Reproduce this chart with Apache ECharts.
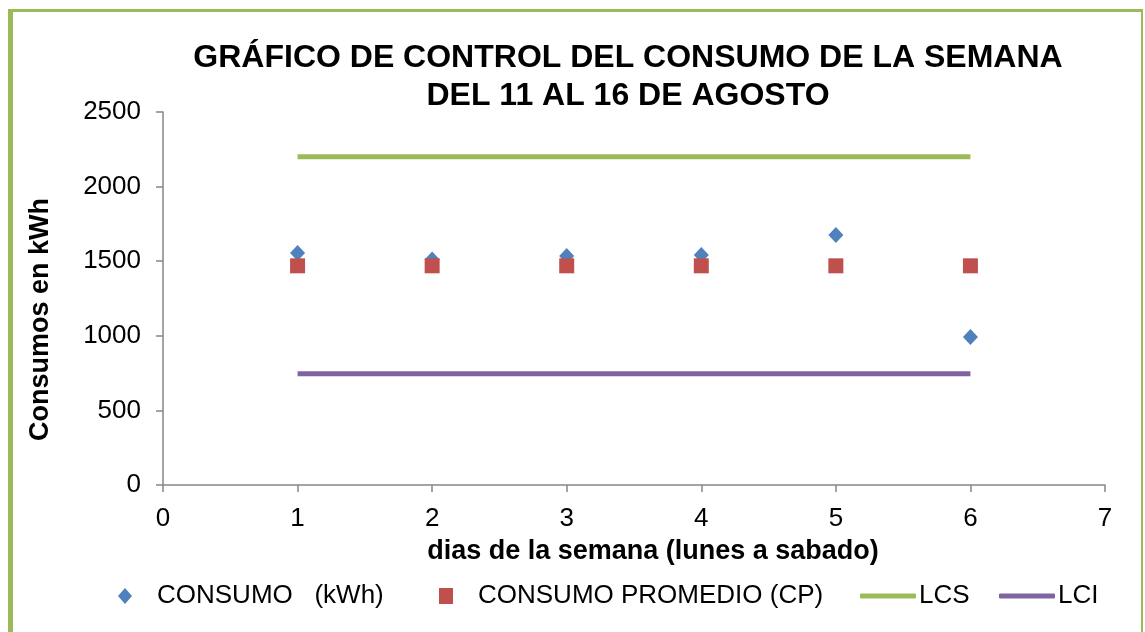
<!DOCTYPE html>
<html>
<head>
<meta charset="utf-8">
<script src="https://cdn.jsdelivr.net/npm/echarts@6/dist/echarts.min.js"></script>
<style>
    html,body{margin:0;padding:0;background:#fff;}
    .frame{
        position:absolute;left:8px;top:9px;width:1135px;height:640px;
        border-left:5px solid #9bbb59;border-top:3px solid #9bbb59;border-right:2px solid #9bbb59;
        box-sizing:border-box;
    }
    #chart{position:absolute;left:0;top:0;width:1145px;height:632px;}
</style>
</head>
<body>
<div class="frame"></div>
<div id="chart"></div>
<script>
    // dias de la semana
    var dias = [1, 2, 3, 4, 5, 6];
    // consumo diario (kWh)
    var consumo = [1555, 1511, 1535, 1542, 1676, 992];
    // consumo promedio
    var promedio = [1469, 1469, 1469, 1469, 1469, 1469];
    // limites de control
    var lcs = [2200, 2200, 2200, 2200, 2200, 2200];
    var lci = [745, 745, 745, 745, 745, 745];

    function pares(xs, ys) {
        return xs.map(function (x, i) { return [x, ys[i]]; });
    }

    var axisColor = '#868686';
    var legendText = {fontSize: 26, color: '#000'};
    var legendTop = 583;

    function leyenda(nombre, icono, left, w, h, pad) {
        return {
            data: [{name: nombre, icon: icono}],
            left: left, top: legendTop,
            itemWidth: w, itemHeight: h,
            padding: 0,
            textStyle: Object.assign({padding: [0, 0, 0, pad]}, legendText)
        };
    }

    var chart = echarts.init(document.getElementById('chart'));
    chart.setOption({
        animation: false,
        textStyle: {fontFamily: 'Liberation Sans, Arial, sans-serif'},
        title: {
            text: 'GRÁFICO DE CONTROL DEL CONSUMO DE LA SEMANA\nDEL 11 AL 16 DE AGOSTO',
            left: 623,
            textAlign: 'center',
            top: 34,
            textStyle: {fontSize: 32, fontWeight: 'bold', color: '#000', lineHeight: 38}
        },
        legend: [
            leyenda('CONSUMO   (kWh)', 'diamond', 118, 14, 16, 20),
            leyenda('CONSUMO PROMEDIO (CP)', 'rect', 439, 14, 16, 20),
            leyenda('LCS', 'roundRect', 860, 56, 5, -2),
            leyenda('LCI', 'roundRect', 999, 56, 5, -2)
        ],
        grid: {left: 163, right: 40, top: 112, bottom: 147},
        xAxis: {
            type: 'value',
            min: 0, max: 7, interval: 1,
            name: 'dias de la semana (lunes a sabado)',
            nameLocation: 'middle',
            nameGap: 53,
            nameTextStyle: {fontSize: 27, fontWeight: 'bold', color: '#000', padding: [0, 0, 0, 38]},
            axisLine: {lineStyle: {color: axisColor, width: 1.5}},
            axisTick: {show: true, length: 7, lineStyle: {color: axisColor, width: 1.5}},
            axisLabel: {fontSize: 26, color: '#000', margin: 21},
            splitLine: {show: false}
        },
        yAxis: {
            type: 'value',
            min: 0, max: 2500, interval: 500,
            name: 'Consumos en kWh',
            nameLocation: 'middle',
            nameGap: 109,
            nameTextStyle: {fontSize: 27, fontWeight: 'bold', color: '#000', padding: [0, 42, 0, 0]},
            axisLine: {show: true, lineStyle: {color: axisColor, width: 1.5}},
            axisTick: {show: true, length: 7, lineStyle: {color: axisColor, width: 1.5}},
            axisLabel: {fontSize: 26, color: '#000', margin: 22, formatter: function (v) { return String(v); }},
            splitLine: {show: false}
        },
        series: [
            {
                name: 'LCS', type: 'line', data: pares(dias, lcs),
                showSymbol: false, symbol: 'none',
                lineStyle: {color: '#9bbb59', width: 5},
                itemStyle: {color: '#9bbb59'}
            },
            {
                name: 'LCI', type: 'line', data: pares(dias, lci),
                showSymbol: false, symbol: 'none',
                lineStyle: {color: '#8064a2', width: 5},
                itemStyle: {color: '#8064a2'}
            },
            {
                name: 'CONSUMO   (kWh)', type: 'scatter', data: pares(dias, consumo),
                symbol: 'diamond', symbolSize: [15, 16],
                itemStyle: {color: '#4f81bd', opacity: 1}
            },
            {
                name: 'CONSUMO PROMEDIO (CP)', type: 'scatter', data: pares(dias, promedio),
                symbol: 'rect', symbolSize: [15, 15],
                itemStyle: {color: '#c0504d', opacity: 1}
            }
        ]
    });
</script>
</body>
</html>
